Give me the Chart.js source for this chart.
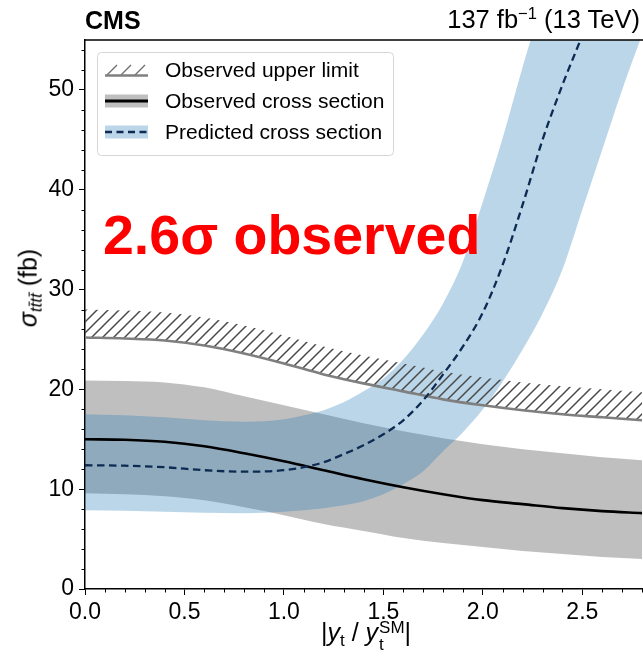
<!DOCTYPE html>
<html lang="en">
<head>
  <meta charset="UTF-8">
  <title>Four top cross section vs top Yukawa</title>
  <script src="https://cdn.jsdelivr.net/npm/chart.js@4.4.0/dist/chart.umd.min.js"></script>
  <style>
    body { margin: 0; background: #fff; }
    #wrap { position: relative; width: 643px; height: 662px; font-family: "Liberation Sans", Arial, sans-serif; color: #000; }
    #wrap canvas { position: absolute; left: 0; top: 0; }
    .lbl { position: absolute; white-space: nowrap; line-height: 1; }
    .sb { font-size: 0.68em; vertical-align: -0.28em; }
    .ss { display: inline-flex; flex-direction: column; font-size: 0.68em; line-height: 0.95; vertical-align: 0.45em; margin-left: 1px; }
    #cms { left: 85px; top: 8px; font-size: 25px; font-weight: bold; }
    #lumi { right: 3px; top: 7px; font-size: 25.5px; }
    #lumi sup { font-size: 0.65em; vertical-align: 0.55em; line-height: 0; }
    #note { left: 103px; top: 208px; font-size: 55.5px; font-weight: bold; color: #ff0000; }
    #xtitle { left: 366px; top: 620px; font-size: 25px; transform: translateX(-50%); }
    #ytitle { left: 30px; top: 288px; font-size: 25px; transform: translate(-50%, -50%) rotate(-90deg); }
  </style>
</head>
<body>
  <div id="wrap">
    <canvas id="chart" width="643" height="662"></canvas>
    <div class="lbl" id="cms">CMS</div>
    <div class="lbl" id="lumi">137 fb<sup>−1</sup> (13 TeV)</div>
    <div class="lbl" id="note">2.6σ observed</div>
    <div class="lbl" id="xtitle">|<i>y</i><span class="sb">t</span> / <i>y</i><span class="ss"><span>SM</span><span>t</span></span>|</div>
    <div class="lbl" id="ytitle"><i>σ</i><span class="sb"><i>tt̄tt̄</i></span> (fb)</div>
  </div>

  <script>
    // observed curves (coarse grid)
    const xObs = [0, 0.2, 0.4, 0.6, 0.8, 1.0, 1.2, 1.4, 1.6, 1.8, 2.0, 2.2, 2.4, 2.6, 2.8];
    const obsCentral = [15.0, 14.95, 14.75, 14.3, 13.6, 12.8, 11.9, 11.0, 10.2, 9.5, 8.9, 8.5, 8.1, 7.8, 7.6];
    const obsBandLo = [9.6, 9.5, 9.3, 8.9, 8.2, 7.4, 6.5, 5.8, 5.1, 4.6, 4.2, 3.8, 3.5, 3.2, 3.0];
    const obsBandHi = [20.9, 20.85, 20.7, 20.2, 19.3, 18.4, 17.5, 16.6, 15.8, 15.1, 14.5, 14.0, 13.6, 13.2, 12.9];
    const limitObs = [25.2, 25.1, 24.9, 24.4, 23.6, 22.6, 21.5, 20.6, 19.8, 19.0, 18.4, 17.9, 17.5, 17.2, 16.9];
    const limitHatchTop = [28.0, 27.9, 27.7, 27.2, 26.4, 25.4, 24.3, 23.4, 22.6, 21.8, 21.2, 20.7, 20.3, 20.0, 19.7];

    // predicted curve (finer grid where it turns up)
    const xPred = [0, 0.2, 0.4, 0.6, 0.8, 1.0, 1.1, 1.2, 1.3, 1.4, 1.5, 1.6, 1.7, 1.8, 1.9, 2.0, 2.1, 2.2, 2.3, 2.4, 2.5, 2.6, 2.7, 2.8];
    const predCentral = [12.4, 12.35, 12.2, 11.9, 11.75, 11.9, 12.2, 12.7, 13.5, 14.4, 15.5, 16.9, 18.9, 21.5, 24.3, 27.7, 32.5, 38.5, 45, 50.5, 55.5, 61, 67, 73];
    const predBandLo = [7.9, 7.85, 7.75, 7.65, 7.6, 7.75, 7.9, 8.1, 8.4, 8.8, 9.5, 10.5, 11.8, 13.8, 15.7, 18.0, 20.8, 24.0, 27.6, 32, 38, 44, 50, 55.5];
    const predBandHi = [17.5, 17.4, 17.2, 16.9, 16.75, 17.0, 17.4, 17.9, 18.7, 19.8, 21.1, 23.0, 25.5, 28.6, 32.8, 38.8, 45.2, 52.3, 59, 66, 73, 80, 87, 94];

    // axis ticks
    const xMajor = [0, 0.5, 1.0, 1.5, 2.0, 2.5];
    const yMajor = [0, 10, 20, 30, 40, 50];

    const legendLabels = ['Observed upper limit', 'Observed cross section', 'Predicted cross section'];

    const GRAY_BAND = 'rgba(0,0,0,0.25)';
    const BLUE_BAND = 'rgba(31,119,180,0.3)';
    const LIMIT_COLOR = '#7f7f7f';
    const PRED_COLOR = '#0d2b52';
    const NONE = 'rgba(0,0,0,0)';

    const pts = (xs, ys) => xs.map((x, i) => ({ x: x, y: ys[i] }));

    // hatch pattern for the upper limit
    function hatchPattern() {
      const c = document.createElement('canvas');
      c.width = 11; c.height = 11;
      const g = c.getContext('2d');
      g.strokeStyle = '#4a4a4a';
      g.lineWidth = 1.5;
      g.beginPath();
      g.moveTo(-1, 12); g.lineTo(12, -1);
      g.moveTo(-6.5, 6.5); g.lineTo(6.5, -6.5);
      g.moveTo(4.5, 17.5); g.lineTo(17.5, 4.5);
      g.stroke();
      return g.createPattern(c, 'repeat');
    }

    const band = (data, fill, color, order) => ({
      data: data, fill: fill, backgroundColor: color, borderColor: NONE,
      borderWidth: 0, order: order
    });

    const extras = {
      id: 'extras',
      afterDraw(chart) {
        const { ctx, chartArea: a, scales: { x, y } } = chart;
        ctx.save();
        ctx.strokeStyle = '#000';
        ctx.lineWidth = 1;
        ctx.beginPath();
        for (let i = 1; i <= 28; i++) {
          if (i % 5 === 0) continue;
          const px = Math.round(x.getPixelForValue(i / 10)) + 0.5;
          ctx.moveTo(px, a.bottom); ctx.lineTo(px, a.bottom + 3.5);
        }
        for (let v = 2; v <= 55; v += 2) {
          if (v % 10 === 0) continue;
          const py = Math.round(y.getPixelForValue(v)) + 0.5;
          ctx.moveTo(a.left, py); ctx.lineTo(a.left - 3.5, py);
        }
        ctx.stroke();

        // top spine
        ctx.lineWidth = 1.5;
        ctx.beginPath();
        ctx.moveTo(a.left, a.top); ctx.lineTo(chart.width, a.top);
        ctx.stroke();

        // legend
        const L = 97, T = 52, W = 296, H = 103;
        ctx.fillStyle = 'rgba(255,255,255,0.85)';
        ctx.strokeStyle = '#d6d6d6';
        ctx.lineWidth = 1;
        ctx.beginPath();
        ctx.roundRect(L + 0.5, T + 0.5, W, H, 4);
        ctx.fill(); ctx.stroke();

        const sx0 = 105, sx1 = 148;
        const rows = [70, 101, 132];

        // upper limit symbol
        ctx.strokeStyle = '#6e6e6e';
        ctx.lineWidth = 1.4;
        ctx.beginPath();
        for (let k = 0; k < 3; k++) {
          const bx = sx0 + 2 + k * 14;
          ctx.moveTo(bx, rows[0] + 5); ctx.lineTo(bx + 10, rows[0] - 5);
        }
        ctx.stroke();
        ctx.strokeStyle = LIMIT_COLOR;
        ctx.lineWidth = 2.5;
        ctx.beginPath();
        ctx.moveTo(sx0, rows[0] + 5.5); ctx.lineTo(sx1, rows[0] + 5.5);
        ctx.stroke();

        // observed symbol
        ctx.fillStyle = GRAY_BAND;
        ctx.fillRect(sx0, rows[1] - 6.5, sx1 - sx0, 13);
        ctx.strokeStyle = '#000';
        ctx.lineWidth = 3;
        ctx.beginPath();
        ctx.moveTo(sx0, rows[1]); ctx.lineTo(sx1, rows[1]);
        ctx.stroke();

        // predicted symbol
        ctx.fillStyle = BLUE_BAND;
        ctx.fillRect(sx0, rows[2] - 6.5, sx1 - sx0, 13);
        ctx.strokeStyle = PRED_COLOR;
        ctx.lineWidth = 2.5;
        ctx.setLineDash([7, 4.5]);
        ctx.beginPath();
        ctx.moveTo(sx0, rows[2]); ctx.lineTo(sx1, rows[2]);
        ctx.stroke();
        ctx.setLineDash([]);

        ctx.fillStyle = '#000';
        ctx.font = '21px "Liberation Sans", Arial, sans-serif';
        ctx.textBaseline = 'middle';
        legendLabels.forEach((t, i) => ctx.fillText(t, 165, rows[i] + 1));
        ctx.restore();
      }
    };

    const tickFont = { family: '"Liberation Sans", Arial, sans-serif', size: 23 };

    new Chart(document.getElementById('chart'), {
      type: 'line',
      data: {
        datasets: [
          band(pts(xObs, obsBandLo), false, NONE, 10),
          band(pts(xObs, obsBandHi), 0, GRAY_BAND, 9),
          band(pts(xPred, predBandLo), false, NONE, 8),
          band(pts(xPred, predBandHi), 2, BLUE_BAND, 7),
          band(pts(xObs, limitHatchTop), 5, hatchPattern(), 6),
          {
            data: pts(xObs, limitObs), borderColor: LIMIT_COLOR, borderWidth: 2.6,
            fill: false, order: 5
          },
          {
            data: pts(xObs, obsCentral), borderColor: '#000', borderWidth: 2.6,
            fill: false, order: 4
          },
          {
            data: pts(xPred, predCentral), borderColor: PRED_COLOR, borderWidth: 2.3,
            borderDash: [7.5, 4.5], fill: false, order: 3
          }
        ]
      },
      options: {
        responsive: false,
        animation: false,
        events: [],
        layout: { padding: { top: 40, right: 1, left: 0, bottom: 0 } },
        elements: {
          point: { radius: 0, hitRadius: 0 },
          line: { cubicInterpolationMode: 'monotone', capBezierPoints: true }
        },
        plugins: { legend: { display: false }, tooltip: { enabled: false } },
        scales: {
          x: {
            type: 'linear', min: 0, max: 2.8,
            afterFit: (s) => { s.height = 73; },
            afterBuildTicks: (s) => { s.ticks = xMajor.map(v => ({ value: v })); },
            ticks: { includeBounds: false, color: '#000', font: tickFont, padding: 4, maxRotation: 0,
                     callback: (v) => Number(v).toFixed(1) },
            grid: { drawOnChartArea: false, tickLength: 6, color: '#000', lineWidth: 1 },
            border: { display: true, color: '#000', width: 1.5 }
          },
          y: {
            type: 'linear', min: 0, max: 55,
            afterFit: (s) => { s.width = 85; },
            afterBuildTicks: (s) => { s.ticks = yMajor.map(v => ({ value: v })); },
            ticks: { includeBounds: false, color: '#000', font: tickFont, padding: 5,
                     callback: (v) => String(v) },
            grid: { drawOnChartArea: false, tickLength: 6, color: '#000', lineWidth: 1 },
            border: { display: true, color: '#000', width: 1.5 }
          }
        }
      },
      plugins: [extras]
    });
  </script>
</body>
</html>
